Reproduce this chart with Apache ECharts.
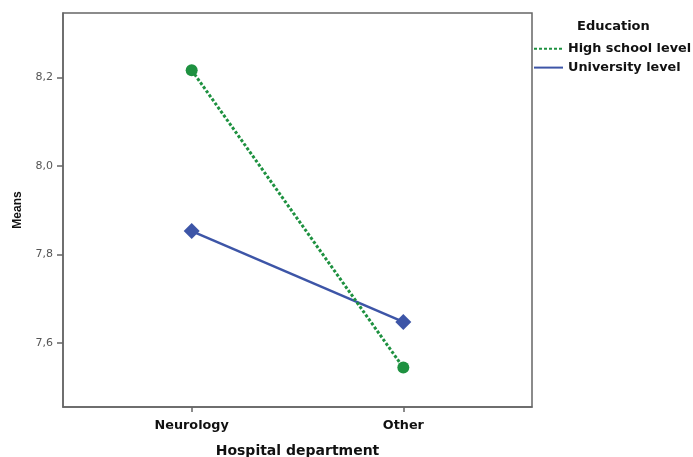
<!DOCTYPE html>
<html>
<head>
<meta charset="utf-8">
<script src="https://cdn.jsdelivr.net/npm/echarts@6/dist/echarts.min.js"></script>
<style>
  html, body { margin: 0; padding: 0; background: #fff; }
  #chart { width: 693px; height: 457px; }
</style>
</head>
<body>
<div id="chart"></div>
<script>
// Estimated marginal means by hospital department and education level
const departments = ['Neurology', 'Other'];
const highSchoolMeans = [8.216, 7.545];
const universityMeans = [7.853, 7.648];
const yTicks = [7.6, 7.8, 8.0, 8.2];
const seriesNames = ['High school level', 'University level'];

const green = '#1e9140';
const blue = '#3d55a7';
const frame = '#666666';
const wideFont = 'DejaVu Sans, sans-serif';
const narrowFont = 'Liberation Sans, Arial, sans-serif';

const toPoints = vals => vals.map((v, i) => [i, v]);
const commaDecimal = v => v.toFixed(1).replace('.', ',');

const chart = echarts.init(document.getElementById('chart'), null, { renderer: 'canvas' });

chart.setOption({
  backgroundColor: '#ffffff',
  animation: false,
  textStyle: { fontFamily: wideFont },
  grid: {
    left: 63, top: 13, right: 161, bottom: 50,
    outerBoundsMode: 'none',
    containLabel: false,
    show: true, borderColor: frame, borderWidth: 1.5, backgroundColor: 'transparent'
  },
  title: {
    text: 'Education',
    left: 577, top: 20.5,
    padding: 0,
    textStyle: { fontFamily: wideFont, fontSize: 13, fontWeight: 'bold', color: '#111' }
  },
  legend: {
    orient: 'vertical',
    left: 533, top: 42.3,
    padding: 0,
    itemWidth: 29, itemHeight: 14, itemGap: 5.8,
    data: seriesNames,
    itemStyle: { opacity: 0 },
    textStyle: { fontFamily: wideFont, fontSize: 12.8, fontWeight: 'bold', color: '#111' }
  },
  xAxis: {
    type: 'value',
    min: -0.608, max: 1.608,
    name: 'Hospital department',
    nameLocation: 'middle',
    nameGap: 37,
    nameTextStyle: { fontFamily: wideFont, fontSize: 14, fontWeight: 'bold', color: '#111' },
    axisLine: { show: true, onZero: false, lineStyle: { color: frame, width: 1.5 } },
    axisTick: { show: true, customValues: [0, 1], length: 5, lineStyle: { color: frame, width: 1.5 } },
    axisLabel: {
      customValues: [0, 1],
      margin: 12,
      fontFamily: wideFont, fontSize: 12.8, fontWeight: 'bold', color: '#111',
      formatter: v => departments[Math.round(v)]
    },
    splitLine: { show: false }
  },
  yAxis: {
    type: 'value',
    min: 7.456, max: 8.345,
    name: 'Means',
    nameLocation: 'middle',
    nameGap: 39,
    nameRotate: 90,
    nameTextStyle: { fontFamily: narrowFont, fontSize: 12, fontWeight: 'bold', color: '#111' },
    axisLine: { show: true, onZero: false, lineStyle: { color: frame, width: 1.5 } },
    axisTick: { show: true, customValues: yTicks, length: 6, lineStyle: { color: frame, width: 1.5 } },
    axisLabel: {
      customValues: yTicks,
      margin: 10,
      fontFamily: wideFont, fontSize: 11, color: '#555',
      formatter: v => commaDecimal(v)
    },
    splitLine: { show: false }
  },
  series: [
    {
      name: seriesNames[0],
      type: 'line',
      data: toPoints(highSchoolMeans),
      symbol: 'circle',
      symbolSize: 12,
      itemStyle: { color: green },
      lineStyle: { color: green, width: 3, type: [3, 2] },
      z: 3
    },
    {
      name: seriesNames[1],
      type: 'line',
      data: toPoints(universityMeans),
      symbol: 'diamond',
      symbolSize: 16,
      itemStyle: { color: blue },
      lineStyle: { color: blue, width: 2.5 },
      z: 2
    }
  ]
});
</script>
</body>
</html>
